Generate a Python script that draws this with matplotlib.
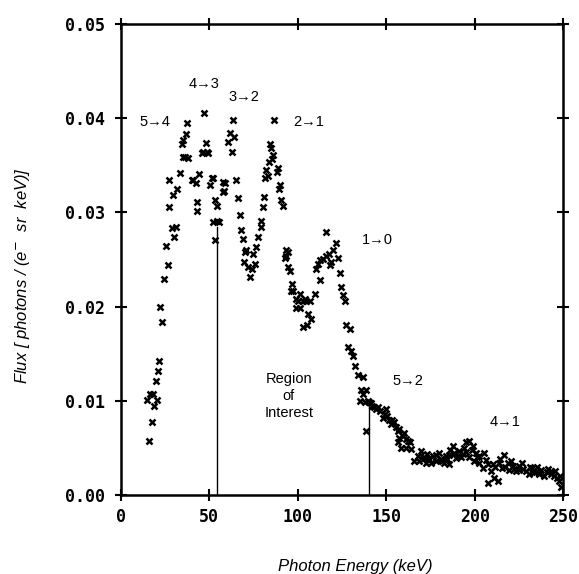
import matplotlib
matplotlib.use("Agg")
import matplotlib.pyplot as plt

energy_kev = [
    14.8, 15.8, 16.7, 17.6, 18.5, 18.9, 19.9, 20.4, 21.0, 21.7, 22.3, 23.2, 24.7, 25.7, 26.6, 27.0,
    27.5, 29.2, 29.4, 30.3, 31.1, 31.7, 33.5, 34.5, 35.0, 35.4, 36.4, 36.9, 37.3, 38.2, 40.1, 41.1,
    42.6, 43.3, 42.9, 44.4, 45.7, 46.3, 47.1, 48.0, 48.9, 49.5, 50.4, 51.4, 51.9, 52.3, 53.3, 53.3,
    54.2, 54.5, 55.6, 57.6, 58.0, 58.5, 58.9, 60.7, 61.7, 63.2, 64.0, 62.7, 65.1, 66.0, 67.3, 68.2,
    68.8, 69.6, 70.1, 70.7, 72.0, 73.0, 73.9, 74.8, 75.8, 76.3, 77.6, 79.0, 79.5, 80.5, 81.0, 81.4,
    82.3, 82.9, 83.8, 84.2, 84.6, 85.2, 86.1, 86.5, 88.3, 88.9, 89.5, 89.9, 90.8, 91.7, 92.7, 93.2,
    93.6, 94.5, 94.5, 95.5, 96.4, 96.9, 97.3, 98.9, 99.2, 100.1, 101.1, 101.1, 102.9, 102.9, 103.9,
    104.8, 105.2, 105.8, 106.7, 107.7, 109.6, 110.5, 111.4, 112.4, 112.4, 114.2, 115.8, 116.2, 117.6,
    118.0, 119.0, 119.9, 121.7, 122.7, 123.6, 124.6, 125.5, 126.5, 127.0, 128.3, 129.3, 130.2, 131.1,
    132.1, 133.9, 134.9, 135.8, 136.8, 136.8, 137.7, 138.7, 138.7, 139.6, 140.5, 141.5, 142.2, 143.3,
    144.3, 145.2, 146.2, 148.0, 149.0, 149.7, 150.2, 151.8, 152.7, 153.2, 154.6, 155.2, 156.5, 156.5,
    157.4, 157.4, 158.3, 159.3, 160.2, 161.2, 161.2, 162.1, 163.1, 164.0, 165.9, 167.7, 168.7, 169.6,
    170.6, 171.2, 172.4, 173.2, 174.3, 175.2, 176.2, 178.0, 178.0, 179.9, 180.9, 181.2, 182.8, 183.7,
    184.2, 185.6, 185.6, 186.2, 187.4, 188.4, 189.2, 190.3, 191.2, 192.2, 193.2, 194.0, 195.0, 195.2,
    196.8, 196.8, 198.2, 198.7, 199.7, 200.6, 201.2, 202.5, 202.5, 204.4, 205.3, 206.2, 207.2, 207.2,
    209.0, 210.0, 210.9, 211.2, 212.8, 213.7, 214.2, 215.6, 216.5, 217.2, 218.5, 219.4, 220.2, 221.3,
    222.2, 223.2, 225.0, 225.2, 226.9, 227.2, 228.8, 230.6, 231.2, 232.5, 233.2, 234.4, 235.2, 236.2,
    237.2, 239.1, 240.9, 241.2, 242.8, 243.2, 244.7, 245.2, 246.6, 247.5, 248.2, 248.4,
]
flux = [
    0.0101, 0.0057, 0.0107, 0.0078, 0.0107, 0.0095, 0.0121, 0.0101, 0.0132, 0.0142, 0.0200, 0.0184, 0.0229, 0.0264, 0.0244, 0.0306,
    0.0334, 0.0283, 0.0318, 0.0274, 0.0285, 0.0325, 0.0342, 0.0373, 0.0377, 0.0359, 0.0359, 0.0383, 0.0395, 0.0358, 0.0334, 0.0334,
    0.0331, 0.0311, 0.0302, 0.0341, 0.0363, 0.0364, 0.0405, 0.0374, 0.0364, 0.0363, 0.0329, 0.0336, 0.0337, 0.0290, 0.0313, 0.0271,
    0.0291, 0.0307, 0.0290, 0.0332, 0.0322, 0.0323, 0.0331, 0.0375, 0.0384, 0.0398, 0.0380, 0.0364, 0.0334, 0.0315, 0.0297, 0.0281,
    0.0272, 0.0247, 0.0258, 0.0260, 0.0242, 0.0231, 0.0240, 0.0256, 0.0245, 0.0263, 0.0274, 0.0284, 0.0291, 0.0306, 0.0316, 0.0336,
    0.0345, 0.0339, 0.0354, 0.0373, 0.0368, 0.0357, 0.0361, 0.0398, 0.0343, 0.0347, 0.0325, 0.0329, 0.0313, 0.0307, 0.0252, 0.0254,
    0.0260, 0.0258, 0.0242, 0.0238, 0.0217, 0.0224, 0.0217, 0.0198, 0.0208, 0.0206, 0.0198, 0.0213, 0.0206, 0.0178, 0.0208,
    0.0206, 0.0181, 0.0192, 0.0206, 0.0187, 0.0213, 0.0240, 0.0245, 0.0228, 0.0249, 0.0251, 0.0254, 0.0279, 0.0256,
    0.0244, 0.0247, 0.0260, 0.0267, 0.0252, 0.0236, 0.0221, 0.0212, 0.0206, 0.0180, 0.0157, 0.0176, 0.0153, 0.0148,
    0.0137, 0.0127, 0.0100, 0.0112, 0.0125, 0.0107, 0.0099, 0.0111, 0.0068, 0.0100, 0.0099, 0.0098, 0.0095, 0.0093,
    0.0091, 0.0093, 0.0089, 0.0082, 0.0086, 0.0091, 0.0084, 0.0080, 0.0075, 0.0080, 0.0077, 0.0072, 0.0068, 0.0056,
    0.0070, 0.0061, 0.0050, 0.0063, 0.0066, 0.0059, 0.0050, 0.0057, 0.0056, 0.0049, 0.0036, 0.0041, 0.0036, 0.0047,
    0.0038, 0.0040, 0.0034, 0.0044, 0.0038, 0.0034, 0.0041, 0.0043, 0.0036, 0.0045, 0.0038, 0.0036, 0.0034, 0.0041,
    0.0038, 0.0043, 0.0033, 0.0048, 0.0052, 0.0045, 0.0039, 0.0041, 0.0047, 0.0040, 0.0044, 0.0050, 0.0056, 0.0046,
    0.0057, 0.0040, 0.0048, 0.0052, 0.0036, 0.0045, 0.0040, 0.0041, 0.0034, 0.0029, 0.0045, 0.0037, 0.0033, 0.0013,
    0.0026, 0.0033, 0.0018, 0.0030, 0.0015, 0.0034, 0.0038, 0.0029, 0.0043, 0.0030, 0.0034, 0.0027, 0.0036, 0.0031,
    0.0028, 0.0026, 0.0027, 0.0031, 0.0034, 0.0028, 0.0026, 0.0022, 0.0030, 0.0029, 0.0024, 0.0024, 0.0030, 0.0022,
    0.0027, 0.0020, 0.0024, 0.0028, 0.0026, 0.0022, 0.0020, 0.0025, 0.0018, 0.0015, 0.0020, 0.0008,
]

# region-of-interest markers (energy, top flux)
roi_energy = [54.3, 140.4]
roi_top = [0.0284, 0.0100]

labels = ["5\u21924", "4\u21923", "3\u21922", "2\u21921", "1\u21920", "5\u21922", "4\u21921", "Region\nof\nInterest"]
label_x = [19.5, 47.0, 69.7, 106.0, 145.0, 162.0, 217.0, 95.0]
label_y = [0.0396, 0.0436, 0.0422, 0.0396, 0.0271, 0.0121, 0.0078, 0.0105]

xticks = [0, 50, 100, 150, 200, 250]
yticks = [0.00, 0.01, 0.02, 0.03, 0.04, 0.05]

fig = plt.figure(figsize=(5.79, 5.74), dpi=100)
ax = fig.add_axes([0.2085, 0.1376, 0.7645, 0.8206])

ax.plot(energy_kev, flux, linestyle="none", marker="x", color="black",
        markersize=3.8, markeredgewidth=1.8)

for e, t in zip(roi_energy, roi_top):
    ax.plot([e, e], [0, t], color="black", linewidth=1.0)

txtfam = ["Liberation Sans", "DejaVu Sans"]
for s, x, y in zip(labels, label_x, label_y):
    ax.text(x, y, s, ha="center", va="center", fontsize=10.5, family=txtfam,
            linespacing=1.25)

ax.set_xlim(0, 250)
ax.set_ylim(0, 0.05)
ax.set_xticks(xticks)
ax.set_yticks(yticks)
ax.set_xticklabels([str(v) for v in xticks], family="DejaVu Sans Mono", fontweight="bold", fontsize=12)
ax.set_yticklabels(["%.2f" % v for v in yticks], family="DejaVu Sans Mono", fontweight="bold", fontsize=12)
ax.tick_params(direction="inout", length=8, width=1.5, top=True, right=True)
ax.tick_params(axis="y", pad=7)
ax.tick_params(axis="x", pad=5)
for sp in ax.spines.values():
    sp.set_linewidth(1.8)

ax.set_xlabel("Photon Energy (keV)", family=txtfam, style="italic", fontsize=12)
ax.set_ylabel("Flux [ photons / (e$^{-}$  sr  keV)]", family=txtfam, style="italic", fontsize=12)
ax.yaxis.set_label_coords(-0.2, 0.465)
ax.xaxis.set_label_coords(0.53, -0.135)

fig.savefig("out.png", dpi=100)
